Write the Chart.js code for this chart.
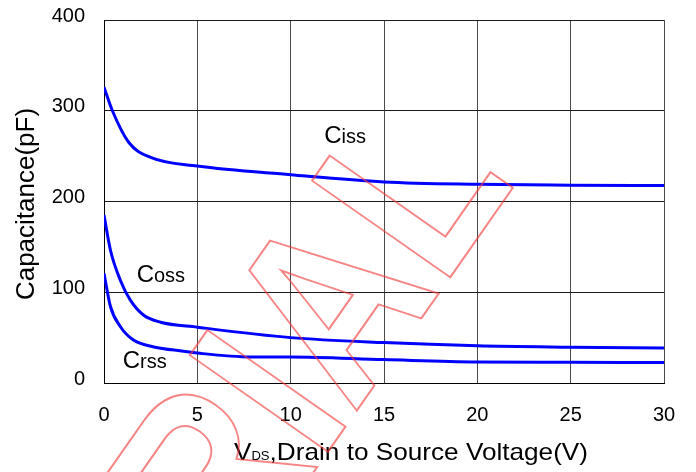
<!DOCTYPE html>
<html>
<head>
<meta charset="utf-8">
<script src="https://cdn.jsdelivr.net/npm/chart.js@4.4.1/dist/chart.umd.min.js"></script>
<style>
  html, body { margin: 0; padding: 0; background: #fff; }
  #capChart { display: block; }
</style>
</head>
<body>
<canvas id="capChart" width="696" height="472"></canvas>
<script>
// VDS sample points (V) and capacitance values (pF) per curve
const cissVds = [0, 0.45, 1.33, 2.5, 5, 10, 15, 20, 25, 30];
const cissPf  = [326, 300, 265, 248.5, 239, 229.5, 221.6, 219, 218, 217.5];

const cossVds = [0, 0.35, 0.88, 1.42, 2.13, 3.03, 5, 10, 15, 20, 25, 30];
const cossPf  = [185, 146, 113, 91, 74.6, 67, 61.5, 50, 44.5, 41, 39.5, 38.5];

const crssVds = [0, 0.35, 0.88, 1.6, 2.67, 4.27, 5, 7.85, 10, 15, 20, 25, 30];
const crssPf  = [121, 84, 62, 47, 39.7, 35, 33, 28.7, 28.7, 25.8, 23.2, 22.8, 22.5];

const xTicks = [0, 5, 10, 15, 20, 25, 30];
const yTicks = [0, 100, 200, 300, 400];

// curve names: main letter, subscript, anchor (VDS, pF) of the text baseline
const curveNames = [
    { main: "C", sub: "iss", x: 11.8, y: 264 },
    { main: "C", sub: "oss", x: 1.75, y: 111.5 },
    { main: "C", sub: "rss", x: 1.0, y: 16.5 }
];

const FONT = "'Liberation Sans', Arial, sans-serif";

function toPoints(xs, ys) {
    return xs.map((x, i) => ({ x: x, y: ys[i] }));
}

function curve(xs, ys) {
    return {
        data: toPoints(xs, ys),
        borderColor: "#0000ff",
        borderWidth: 3,
        pointRadius: 0,
        fill: false,
        cubicInterpolationMode: "monotone"
    };
}

// axis titles, curve names and the stamp across the plot
const textPlugin = {
    id: "chartText",
    afterDraw(chart) {
        const ctx = chart.ctx;
        const xs = chart.scales.x;
        const ys = chart.scales.y;
        ctx.save();
        ctx.fillStyle = "#000";
        ctx.textBaseline = "alphabetic";
        ctx.textAlign = "left";

        curveNames.forEach(n => {
            let px = xs.getPixelForValue(n.x);
            const py = ys.getPixelForValue(n.y);
            ctx.font = "24px " + FONT;
            ctx.fillText(n.main, px, py);
            px += ctx.measureText(n.main).width;
            ctx.font = "20px " + FONT;
            ctx.fillText(n.sub, px, py);
        });

        // y title
        ctx.save();
        ctx.translate(34, 204);
        ctx.rotate(-Math.PI / 2);
        ctx.textAlign = "center";
        ctx.font = "26px " + FONT;
        ctx.fillText("Capacitance(pF)", 0, 0);
        ctx.restore();

        // x title with subscript DS, slightly widened
        const parts = [["V", "24px"], ["DS", "12px"], [",Drain to Source Voltage(V)", "24px"]];
        let total = 0;
        parts.forEach(p => { ctx.font = p[1] + " " + FONT; total += ctx.measureText(p[0]).width; });
        ctx.save();
        ctx.translate(411, 460);
        ctx.scale(1.09, 1);
        let tx = -total / 2;
        parts.forEach(p => {
            ctx.font = p[1] + " " + FONT;
            ctx.fillText(p[0], tx, 0);
            tx += ctx.measureText(p[0]).width;
        });
        ctx.restore();

        // stamp
        ctx.translate(516.6, 182.5);
        ctx.rotate(-55 * Math.PI / 180);
        ctx.scale(1, 1.15);
        ctx.textAlign = "right";
        ctx.font = "bold 213px " + FONT;
        ctx.strokeStyle = "rgba(240, 60, 60, 0.62)";
        ctx.lineWidth = 1.8;
        ctx.strokeText("TRIAL", 0, 0);
        ctx.restore();
    }
};

new Chart(document.getElementById("capChart"), {
    type: "line",
    data: {
        datasets: [
            curve(cissVds, cissPf),
            curve(cossVds, cossPf),
            curve(crssVds, crssPf)
        ]
    },
    options: {
        responsive: false,
        animation: false,
        events: [],
        layout: { padding: { top: 20, right: 32, left: 0, bottom: 0 } },
        plugins: {
            legend: { display: false },
            tooltip: { enabled: false }
        },
        scales: {
            x: {
                type: "linear",
                min: 0,
                max: 30,
                afterFit(scale) {
                    scale.height = 89;
                    scale.paddingLeft = 0;
                    scale.paddingRight = 0;
                },
                afterBuildTicks(scale) { scale.ticks = xTicks.map(v => ({ value: v })); },
                grid: { color: "#4a4a4a", lineWidth: 1, drawTicks: false },
                border: { color: "#000", width: 1 },
                ticks: {
                    color: "#000",
                    font: { family: FONT, size: 20 },
                    padding: 20,
                    maxRotation: 0
                }
            },
            y: {
                min: 0,
                max: 400,
                afterFit(scale) {
                    scale.width = 104;
                    scale.paddingTop = 0;
                    scale.paddingBottom = 0;
                },
                afterBuildTicks(scale) { scale.ticks = yTicks.map(v => ({ value: v })); },
                grid: { color: "#1a1a1a", lineWidth: 1, drawTicks: false },
                border: { color: "#000", width: 1 },
                ticks: {
                    color: "#000",
                    font: { family: FONT, size: 20 },
                    padding: 19,
                    labelOffset: -4
                }
            }
        }
    },
    plugins: [textPlugin]
});
</script>
</body>
</html>
